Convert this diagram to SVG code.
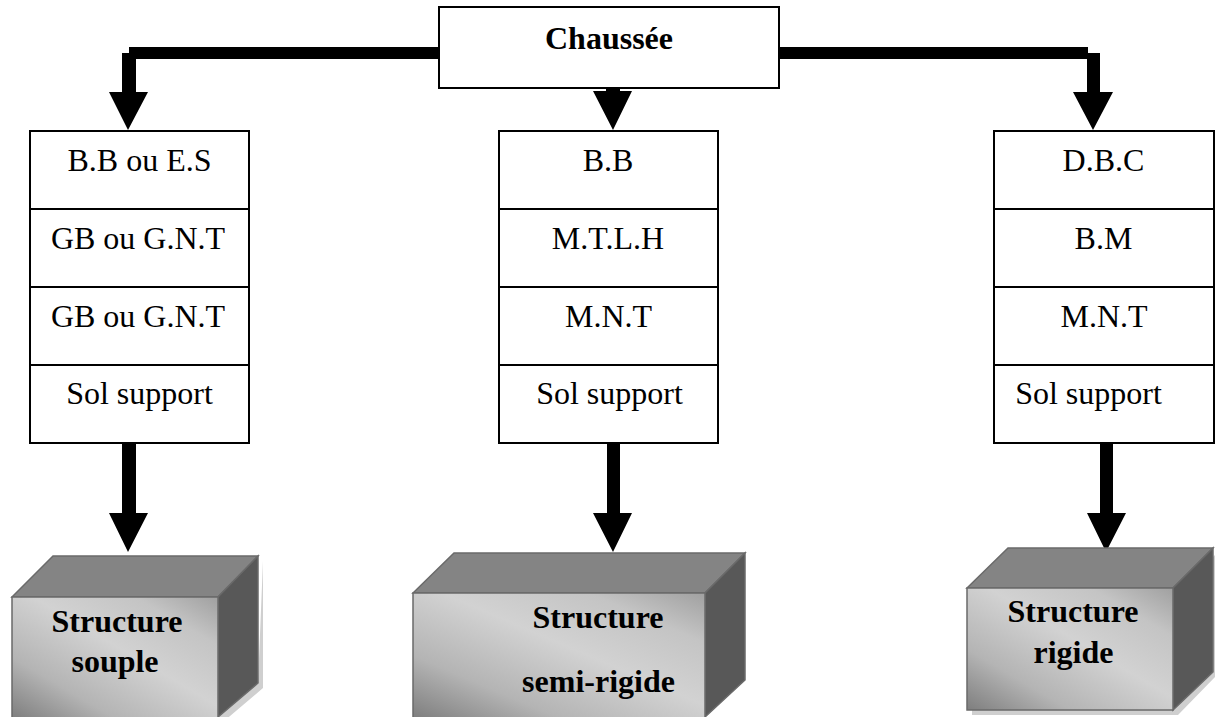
<svg xmlns="http://www.w3.org/2000/svg" width="1215" height="717" viewBox="0 0 1215 717">
<defs>
<style>
.box{fill:#fff;stroke:#000;stroke-width:2}
.div{stroke:#000;stroke-width:2}
text{font-family:'Liberation Serif','Times New Roman','DejaVu Serif',serif;font-size:32px;fill:#000;text-anchor:middle}
.b{font-weight:bold}
.arrow{fill:#000}
.topf{fill:#848484;stroke:#6a6a6a;stroke-width:1.5}
.sidef{fill:#585858;stroke:#6a6a6a;stroke-width:1.5}
.front{fill:url(#fg);stroke:#6a6a6a;stroke-width:1.5}
.shadow{fill:#cfcfcf}
</style>
<linearGradient id="fg" x1="0" y1="1" x2="1" y2="0">
<stop offset="0" stop-color="#7e7e7e"/>
<stop offset="0.25" stop-color="#b4b4b4"/>
<stop offset="0.55" stop-color="#d2d2d2"/>
<stop offset="0.8" stop-color="#c4c4c4"/>
<stop offset="1" stop-color="#a0a0a0"/>
</linearGradient>
</defs>
<rect width="1215" height="717" fill="#fff"/>

<g id="connectors">
<path class="arrow" d="M129,47 H440 V59 H136 V92 H148 L128,130 L109,92 H122 V53 H129 Z"/>
<path class="arrow" d="M778,47 H1088 V53 H1100 V92 H1113 L1093,130 L1073,92 H1087 V59 H778 Z"/>
<path class="arrow" d="M606,88 H620 V91 H632 L613,130 L593,91 H606 Z"/>
<path class="arrow" d="M122,443 H136 V513 H148 L128,552 L109,513 H122 Z"/>
<path class="arrow" d="M607,443 H620 V513 H632 L613,552 L593,513 H607 Z"/>
<path class="arrow" d="M1100,443 H1113 V513 H1126 L1106,552 L1087,513 H1100 Z"/>
</g>

<g font-family="Liberation Serif, serif">
<g id="chaussee">
<rect class="box" x="439" y="7" width="340" height="81"/>
<text class="b" x="609" y="49">Chaussée</text>
</g>

<g id="col-souple">
<rect class="box" x="30" y="131" width="219" height="312"/>
<line class="div" x1="30" y1="209" x2="249" y2="209"/>
<line class="div" x1="30" y1="287" x2="249" y2="287"/>
<line class="div" x1="30" y1="365" x2="249" y2="365"/>
<text x="139.5" y="171">B.B ou E.S</text>
<text x="138" y="249">GB ou G.N.T</text>
<text x="138" y="327">GB ou G.N.T</text>
<text x="139.5" y="404">Sol support</text>
</g>

<g id="col-semi">
<rect class="box" x="499" y="131" width="219" height="312"/>
<line class="div" x1="499" y1="209" x2="718" y2="209"/>
<line class="div" x1="499" y1="287" x2="718" y2="287"/>
<line class="div" x1="499" y1="365" x2="718" y2="365"/>
<text x="608" y="171">B.B</text>
<text x="608" y="249">M.T.L.H</text>
<text x="608.5" y="327">M.N.T</text>
<text x="609.5" y="404">Sol support</text>
</g>

<g id="col-rigide">
<rect class="box" x="994" y="131" width="220" height="312"/>
<line class="div" x1="994" y1="209" x2="1214" y2="209"/>
<line class="div" x1="994" y1="287" x2="1214" y2="287"/>
<line class="div" x1="994" y1="365" x2="1214" y2="365"/>
<text x="1103.5" y="171">D.B.C</text>
<text x="1103.5" y="249">B.M</text>
<text x="1104" y="327">M.N.T</text>
<text x="1088.5" y="404">Sol support</text>
</g>

<g id="struct-souple">
<polygon class="shadow" points="263,561 263,688 223,722 17,722 17,717 258,683"/>
<polygon class="topf" points="12,597 53,556 258,556 218,597"/>
<polygon class="sidef" points="218,597 258,556 258,683 218,717"/>
<rect class="front" x="12" y="597" width="206" height="121"/>
<text class="b" x="117" y="632">Structure</text>
<text class="b" x="115" y="672">souple</text>
</g>

<g id="struct-semi">
<polygon class="topf" points="413,593 454,553 745,553 705,593"/>
<polygon class="sidef" points="705,593 745,553 745,680 705,717"/>
<rect class="front" x="413" y="593" width="292" height="125"/>
<text class="b" x="598" y="628">Structure</text>
<text class="b" x="598.5" y="692">semi-rigide</text>
</g>

<g id="struct-rigide">
<polygon class="shadow" points="1178,593 1215,555 1215,677 1178,715 972,715 972,710 1173,710 1213,672"/>
<polygon class="topf" points="967,588 1008,548 1213,548 1173,588"/>
<polygon class="sidef" points="1173,588 1213,548 1213,672 1173,710"/>
<rect class="front" x="967" y="588" width="206" height="122"/>
<text class="b" x="1073" y="622">Structure</text>
<text class="b" x="1073.5" y="663">rigide</text>
</g>
</g>
</svg>
